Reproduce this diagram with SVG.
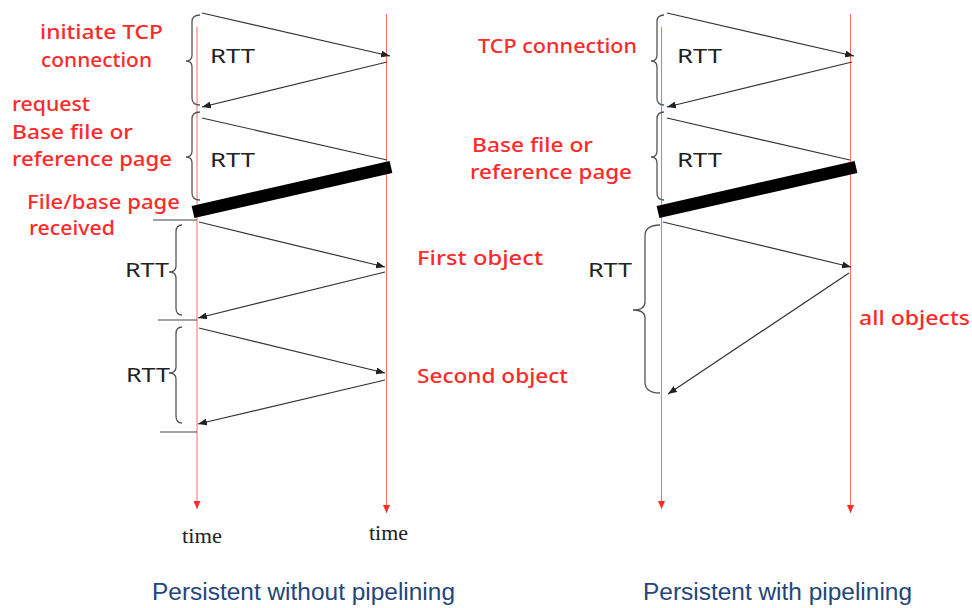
<svg xmlns="http://www.w3.org/2000/svg" width="972" height="608" viewBox="0 0 972 608">
<defs>
<marker id="ah" markerUnits="userSpaceOnUse" markerWidth="9" markerHeight="7" refX="9" refY="3.5" orient="auto"><path d="M0,0 L9,3.5 L0,7 z" fill="#222"/></marker>
<marker id="rh" markerUnits="userSpaceOnUse" markerWidth="8" markerHeight="7" refX="8" refY="3.5" orient="auto"><path d="M0,0 L8,3.5 L0,7 z" fill="#ff2a2a"/></marker>
<style>
.tl{stroke:#ff6a6a;stroke-width:1;fill:none;marker-end:url(#rh)}
.msg{stroke:#333;stroke-width:1.2;fill:none;marker-end:url(#ah)}
.bar{stroke:#000;stroke-width:12.5;stroke-linecap:butt}
.br{stroke:#555;stroke-width:1.3;fill:none}
.tick{stroke:#444;stroke-width:1.2}
.red{font-family:"Noto Sans","Liberation Sans",sans-serif;font-size:19px;font-weight:500;fill:#ff2a2a}
.rtt{font-family:"Noto Sans","Liberation Sans",sans-serif;font-size:20px;fill:#222}
.time{font-family:"Liberation Serif",serif;font-size:20px;fill:#222}
.cap{font-family:"Liberation Sans",Arial,sans-serif;font-size:23.5px;fill:#24467a}
</style>
</defs>

<g id="timelines">
<line class="tl" x1="197" y1="27" x2="197" y2="509"/>
<line class="tl" x1="386.5" y1="14" x2="386.5" y2="513"/>
<line class="tl" x1="661.5" y1="27" x2="661.5" y2="509"/>
<line class="tl" x1="850.5" y1="14" x2="850.5" y2="513"/>
</g>

<g id="connectors">
<line class="msg" x1="202" y1="13" x2="390" y2="56"/>
<line class="msg" x1="387" y1="62" x2="202" y2="107"/>
<line class="msg" x1="202" y1="118" x2="387" y2="160" style="marker-end:none"/>
<line class="bar" x1="193" y1="212" x2="391" y2="167"/>
<line class="msg" x1="199" y1="222" x2="385" y2="267"/>
<line class="msg" x1="385" y1="272" x2="198" y2="318"/>
<line class="msg" x1="199" y1="328" x2="385" y2="373"/>
<line class="msg" x1="385" y1="380" x2="198" y2="424"/>
<line class="msg" x1="667" y1="13" x2="854" y2="56"/>
<line class="msg" x1="852" y1="62" x2="667" y2="107"/>
<line class="msg" x1="667" y1="118" x2="850" y2="160" style="marker-end:none"/>
<line class="bar" x1="658" y1="212" x2="856" y2="167"/>
<line class="msg" x1="663" y1="222" x2="851" y2="267"/>
<line class="msg" x1="849" y1="273" x2="668" y2="394"/>
</g>

<g id="ticks">
<line class="tick" x1="153" y1="220" x2="197" y2="220"/>
<line class="tick" x1="158" y1="320" x2="197" y2="320"/>
<line class="tick" x1="160" y1="432" x2="197" y2="432"/>
</g>

<g id="braces">
<path class="br" d="M200,15 Q192,15 192,22 L192,55 Q192,61 186,61 Q192,61 192,67 L192,98 Q192,105 200,105"/>
<path class="br" d="M200,112 Q192,112 192,119 L192,151 Q192,157 186,157 Q192,157 192,163 L192,193 Q192,200 200,200"/>
<path class="br" d="M182,225 Q176,225 176,232 L176,266 Q176,272 169,272 Q176,272 176,278 L176,308 Q176,315 182,315"/>
<path class="br" d="M182,327 Q176,327 176,334 L176,367 Q176,373 169,373 Q176,373 176,379 L176,416 Q176,423 182,423"/>
<path class="br" d="M664,15 Q657,15 657,22 L657,55 Q657,61 651,61 Q657,61 657,67 L657,98 Q657,105 664,105"/>
<path class="br" d="M664,112 Q657,112 657,119 L657,151 Q657,157 651,157 Q657,157 657,163 L657,193 Q657,200 664,200"/>
<path class="br" d="M660,225 Q645,225 645,236 L645,302 Q645,310 633,310 Q645,310 645,318 L645,382 Q645,393 660,393"/>
</g>

<g id="labels-left">
<text class="red" x="40" y="39" textLength="123" lengthAdjust="spacingAndGlyphs">initiate TCP</text>
<text class="red" x="41" y="67" textLength="111" lengthAdjust="spacingAndGlyphs">connection</text>
<text class="red" x="12" y="111" textLength="78" lengthAdjust="spacingAndGlyphs">request</text>
<text class="red" x="12" y="139" textLength="121" lengthAdjust="spacingAndGlyphs">Base file or</text>
<text class="red" x="12" y="166" textLength="160" lengthAdjust="spacingAndGlyphs">reference page</text>
<text class="red" x="27" y="209" textLength="153" lengthAdjust="spacingAndGlyphs">File/base page</text>
<text class="red" x="29" y="235" textLength="86" lengthAdjust="spacingAndGlyphs">received</text>
<text class="red" x="417" y="265" textLength="126" lengthAdjust="spacingAndGlyphs">First object</text>
<text class="red" x="417" y="383" textLength="151" lengthAdjust="spacingAndGlyphs">Second object</text>
<text class="rtt" x="210" y="63" textLength="45" lengthAdjust="spacingAndGlyphs">RTT</text>
<text class="rtt" x="210" y="167" textLength="45" lengthAdjust="spacingAndGlyphs">RTT</text>
<text class="rtt" x="125" y="277" textLength="44" lengthAdjust="spacingAndGlyphs">RTT</text>
<text class="rtt" x="126" y="382" textLength="44" lengthAdjust="spacingAndGlyphs">RTT</text>
<text class="time" x="182" y="543" textLength="40" lengthAdjust="spacingAndGlyphs">time</text>
<text class="time" x="369" y="540" textLength="39" lengthAdjust="spacingAndGlyphs">time</text>
<text class="cap" x="152" y="600" textLength="303" lengthAdjust="spacingAndGlyphs">Persistent without pipelining</text>
</g>

<g id="labels-right">
<text class="red" x="478" y="53" textLength="159" lengthAdjust="spacingAndGlyphs">TCP connection</text>
<text class="red" x="472" y="152" textLength="121" lengthAdjust="spacingAndGlyphs">Base file or</text>
<text class="red" x="470" y="179" textLength="162" lengthAdjust="spacingAndGlyphs">reference page</text>
<text class="red" x="859" y="325" textLength="111" lengthAdjust="spacingAndGlyphs">all objects</text>
<text class="rtt" x="677" y="63" textLength="45" lengthAdjust="spacingAndGlyphs">RTT</text>
<text class="rtt" x="677" y="167" textLength="45" lengthAdjust="spacingAndGlyphs">RTT</text>
<text class="rtt" x="588" y="277" textLength="44" lengthAdjust="spacingAndGlyphs">RTT</text>
<text class="cap" x="643" y="600" textLength="269" lengthAdjust="spacingAndGlyphs">Persistent with pipelining</text>
</g>
</svg>
